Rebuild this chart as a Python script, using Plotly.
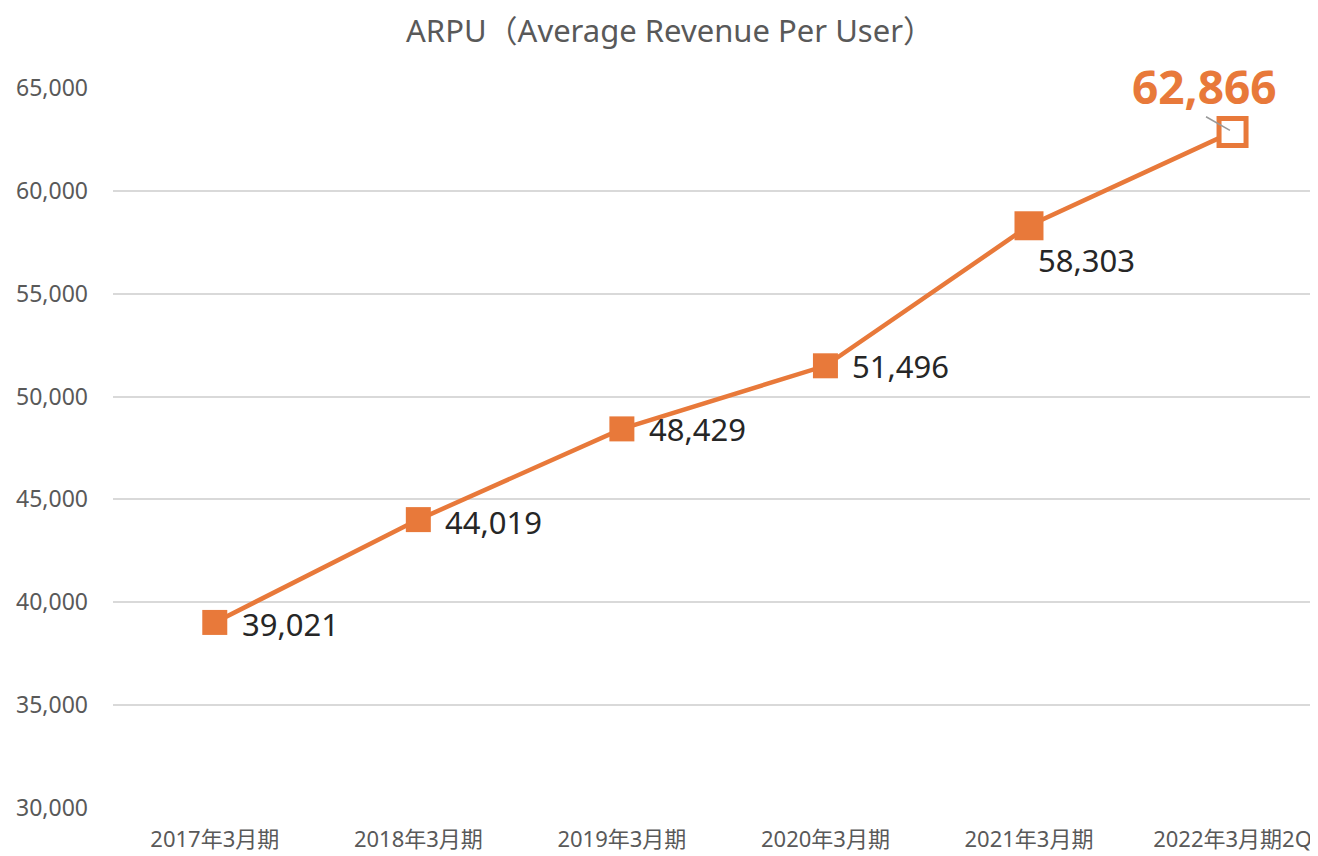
import plotly.graph_objects as go

categories = ["2017年3月期", "2018年3月期", "2019年3月期", "2020年3月期", "2021年3月期", "2022年3月期2Q"]
arpu = [39021, 44019, 48429, 51496, 58303, 62866]
y_ticks = [30000, 35000, 40000, 45000, 50000, 55000, 60000, 65000]

ORANGE = "#E8793A"
FONT = "Noto Sans, Noto Sans CJK JP"

# the page body adds an 8px margin, so the figure is 8px smaller each way
W, H, PAD = 1310, 848, 8

marker_sizes = [25, 25, 25, 25, 29, 27]
marker_fill = [ORANGE] * 5 + ["white"]
marker_line_w = [0, 0, 0, 0, 0, 5]

fig = go.Figure()
fig.add_trace(go.Scatter(
    x=categories, y=arpu, mode="lines+markers",
    line=dict(color=ORANGE, width=4.5),
    marker=dict(symbol="square", size=marker_sizes, color=marker_fill, opacity=1,
                line=dict(color=ORANGE, width=marker_line_w)),
    hoverinfo="skip", showlegend=False,
))

# data labels: (xshift, yshift) offsets for the first five
label_offsets = [(25, -2), (25, -2), (25, 0), (25, 0), (7, -34)]
for i in range(5):
    dx, dy = label_offsets[i]
    fig.add_annotation(x=categories[i], y=arpu[i], xref="x", yref="y",
                       text=f"{arpu[i]:,}", showarrow=False,
                       xanchor="left", yanchor="middle", xshift=dx, yshift=dy,
                       font=dict(family=FONT, size=31, color="#262626"))

# highlighted last label
fig.add_annotation(x=categories[5], y=arpu[5], xref="x", yref="y",
                   text=f"<b>{arpu[5]:,}</b>", showarrow=False,
                   xanchor="center", yanchor="middle", xshift=-28, yshift=46,
                   font=dict(family=FONT, size=46, color=ORANGE))
fig.add_annotation(x=categories[5], y=arpu[5], xref="x", yref="y",
                   text="", showarrow=True, arrowhead=0, arrowwidth=1.5,
                   arrowcolor="#999999", ax=-28, ay=-16, standoff=3)

fig.update_layout(
    width=W, height=H,
    margin=dict(l=113 - PAD, r=2, t=88 - PAD, b=48),
    paper_bgcolor="white", plot_bgcolor="white",
    font=dict(family=FONT, color="#595959"),
    title=dict(text="ARPU（Average Revenue Per User）", x=(670 - PAD) / W, xref="container",
               xanchor="center", y=1 - (31 - PAD) / H, yref="container", yanchor="middle",
               font=dict(family=FONT, size=31, color="#595959")),
)
fig.update_xaxes(range=[-0.5, 5.41], showgrid=False, showline=False, zeroline=False,
                 automargin=False, ticks="",
                 tickfont=dict(family=FONT, size=22, color="#595959"),
                 ticklabelstandoff=16)
fig.update_yaxes(range=[30000, 65000], tickvals=y_ticks, tickformat=",",
                 showgrid=True, gridcolor="#D9D9D9", gridwidth=1.5, zeroline=False,
                 automargin=False, showline=False, ticks="",
                 tickfont=dict(family=FONT, size=23, color="#595959"),
                 ticklabelstandoff=24)

fig.write_html("out.html")
